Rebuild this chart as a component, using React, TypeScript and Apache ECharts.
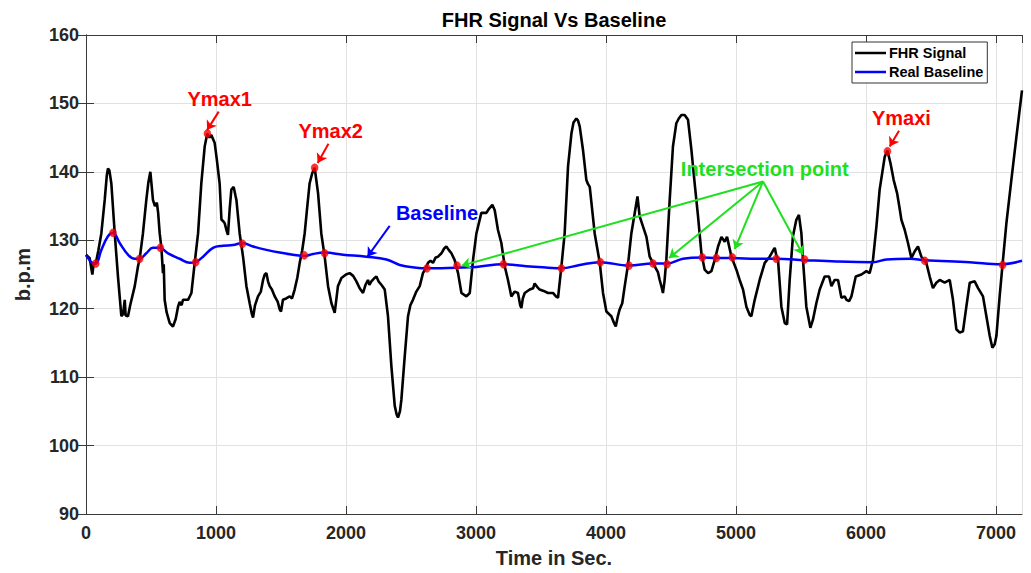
import React, { useEffect, useRef } from 'react';
import * as echarts from 'echarts';

const FONT = '"Liberation Sans", Arial, Helvetica, sans-serif';

// FHR signal (time in s, b.p.m)
const fhrTime = [
  0, 28, 40, 49, 58, 75, 95, 118, 144, 160, 169, 180, 195, 221, 246, 272, 285, 298, 305, 323,
  340, 375, 400, 413, 438, 464, 480, 495, 505, 515, 530, 545, 555, 567, 580, 592, 598, 605, 620, 644,
  669, 690, 708, 720, 735, 746, 785, 811, 836, 862, 887, 913, 933, 950, 964, 990, 1005, 1028, 1042, 1055,
  1067, 1080, 1092, 1105, 1118, 1136, 1150, 1157, 1182, 1208, 1234, 1259, 1275, 1285, 1300, 1323, 1345, 1362, 1375, 1388,
  1400, 1413, 1430, 1452, 1475, 1490, 1500, 1515, 1540, 1567, 1585, 1605, 1625, 1644, 1663, 1682, 1700, 1720, 1740, 1759,
  1785, 1810, 1836, 1862, 1888, 1913, 1938, 1965, 2000, 2028, 2055, 2080, 2105, 2131, 2150, 2169, 2180, 2195, 2215, 2234,
  2250, 2272, 2298, 2323, 2349, 2375, 2390, 2400, 2415, 2426, 2452, 2477, 2495, 2515, 2541, 2567, 2592, 2610, 2631, 2650,
  2669, 2690, 2708, 2734, 2755, 2772, 2790, 2811, 2836, 2862, 2888, 2926, 2952, 2977, 3003, 3041, 3080, 3100, 3126, 3144,
  3169, 3195, 3221, 3246, 3272, 3298, 3323, 3340, 3349, 3360, 3375, 3413, 3440, 3451, 3470, 3490, 3520, 3554, 3592, 3615,
  3631, 3657, 3682, 3708, 3734, 3750, 3772, 3785, 3798, 3823, 3849, 3862, 3875, 3913, 3952, 3977, 4003, 4041, 4060, 4075,
  4090, 4105, 4125, 4144, 4169, 4195, 4221, 4242, 4259, 4285, 4311, 4336, 4375, 4400, 4413, 4430, 4438, 4450, 4464, 4490,
  4515, 4541, 4560, 4580, 4605, 4631, 4657, 4682, 4708, 4734, 4759, 4785, 4811, 4836, 4862, 4888, 4913, 4931, 4965, 5003,
  5028, 5054, 5080, 5105, 5118, 5144, 5182, 5221, 5259, 5285, 5298, 5310, 5323, 5349, 5375, 5393, 5413, 5438, 5464, 5484,
  5503, 5515, 5541, 5572, 5592, 5618, 5644, 5682, 5716, 5734, 5759, 5785, 5811, 5836, 5850, 5870, 5888, 5921, 5965, 6003,
  6028, 6054, 6080, 6105, 6144, 6165, 6188, 6213, 6239, 6260, 6272, 6298, 6323, 6349, 6375, 6400, 6426, 6464, 6490, 6515,
  6541, 6567, 6605, 6644, 6669, 6695, 6721, 6746, 6772, 6798, 6836, 6862, 6900, 6926, 6952, 6972, 6990, 7003, 7028, 7054,
  7080, 7118, 7157, 7200,
];
const fhrValue = [
  127.9, 127.4, 126.0, 125.0, 126.5, 126.6, 128.5, 131.0, 135.9, 139.5, 140.5, 140.2, 138.3, 131.0, 124.7, 118.9, 119.2, 121.3, 119.0, 118.9,
  120.5, 123.3, 126.2, 127.3, 131.0, 135.9, 138.5, 140.0, 138.0, 135.9, 135.0, 135.5, 134.0, 131.0, 128.9, 125.2, 126.5, 121.3, 119.5, 117.9,
  117.4, 118.5, 120.3, 121.0, 120.5, 121.3, 121.3, 122.3, 126.7, 131.0, 138.3, 143.7, 145.6, 145.0, 145.4, 144.2, 142.0, 138.3, 133.0, 132.8,
  132.5, 131.5, 130.8, 134.5, 137.4, 137.8, 136.5, 135.9, 131.0, 127.6, 123.3, 120.8, 119.3, 118.7, 120.5, 121.8, 122.5, 124.2, 125.0, 125.2,
  124.0, 123.3, 122.8, 121.8, 121.0, 119.9, 119.6, 121.3, 121.5, 121.8, 121.5, 122.8, 124.5, 126.7, 128.5, 131.0, 134.5, 138.3, 139.8, 140.6,
  136.9, 131.0, 127.6, 123.3, 120.8, 119.4, 123.3, 124.5, 125.0, 125.2, 124.8, 124.0, 123.0, 122.3, 123.5, 124.2, 123.5, 124.0, 124.4, 124.7,
  124.0, 123.5, 122.8, 118.9, 111.6, 105.8, 104.5, 104.1, 105.0, 106.7, 113.1, 118.9, 120.5, 121.3, 122.5, 123.3, 125.2, 125.8, 126.7, 127.0,
  126.7, 127.5, 127.6, 128.1, 128.8, 129.1, 128.6, 128.1, 127.1, 125.2, 122.3, 121.8, 122.3, 127.1, 131.0, 134.0, 134.0, 134.6, 135.2, 134.4,
  131.5, 129.6, 126.2, 124.2, 121.8, 122.5, 122.3, 120.5, 120.1, 121.5, 122.3, 122.8, 123.0, 123.7, 123.2, 122.8, 122.6, 122.3, 122.3, 121.8,
  121.6, 126.2, 131.0, 140.8, 145.6, 147.2, 147.8, 147.5, 146.6, 143.2, 138.8, 138.2, 137.8, 131.0, 126.7, 122.3, 119.6, 118.9, 118.0, 117.4,
  118.8, 119.9, 120.8, 123.3, 126.4, 131.0, 134.0, 136.4, 133.5, 132.0, 130.5, 127.6, 126.2, 125.3, 124.2, 123.0, 122.3, 124.0, 127.1, 135.9,
  143.7, 147.1, 147.8, 148.3, 148.3, 147.6, 143.2, 138.3, 133.5, 128.1, 125.7, 125.2, 125.5, 127.1, 129.1, 130.5, 129.8, 130.5, 127.6, 125.7,
  124.2, 122.8, 120.3, 119.1, 118.9, 121.3, 124.2, 126.7, 127.6, 128.5, 128.9, 127.8, 127.2, 120.3, 117.9, 117.7, 124.2, 130.6, 133.0, 133.7,
  131.0, 127.2, 120.3, 117.2, 118.4, 120.8, 122.8, 124.7, 124.7, 123.3, 124.2, 124.2, 121.6, 121.8, 121.3, 121.1, 121.8, 124.7, 125.0, 125.5,
  125.2, 127.2, 132.0, 137.4, 142.2, 143.1, 141.3, 138.8, 136.9, 134.5, 133.0, 131.5, 129.6, 127.4, 128.4, 129.1, 127.6, 126.7, 124.7, 123.0,
  123.8, 124.2, 123.8, 124.2, 121.3, 117.0, 116.5, 116.7, 120.3, 123.8, 124.0, 123.0, 121.8, 118.9, 116.0, 114.3, 114.8, 116.0, 121.8, 127.2,
  132.5, 138.8, 145.1, 151.9,
];

// Real baseline
const baselineTime = [
  0, 20, 41, 75, 118, 169, 208, 259, 323, 375, 413, 464, 515, 567, 631, 721, 798, 844, 900, 977,
  1054, 1131, 1203, 1285, 1388, 1490, 1592, 1682, 1746, 1836, 1977, 2157, 2311, 2413, 2541, 2618, 2849, 3003, 3208, 3387,
  3554, 3657, 3798, 3952, 4177, 4362, 4472, 4592, 4741, 4849, 4972, 5157, 5310, 5528, 5772, 6054, 6157, 6338, 6453, 6798,
  7041, 7200,
];
const baselineValue = [
  127.8, 127.3, 126.8, 126.6, 128.6, 130.6, 131.1, 129.6, 127.9, 127.3, 127.3, 128.1, 128.9, 128.9, 128.1, 127.3, 126.7, 126.8, 127.6, 128.9,
  129.2, 129.3, 129.6, 129.1, 128.6, 128.2, 127.9, 127.7, 128.0, 128.2, 127.9, 127.6, 127.2, 126.4, 126.0, 125.9, 126.0, 126.1, 126.5, 126.2,
  126.0, 125.9, 126.4, 126.8, 126.3, 126.6, 126.6, 127.3, 127.5, 127.4, 127.4, 127.3, 127.3, 127.1, 126.9, 126.8, 127.2, 127.3, 127.1, 126.8,
  126.5, 127.0,
];

// Red markers: intersection points and local maxima
const markerTime = [
  75, 208, 413, 572, 844, 934, 1203, 1680, 1759, 1836, 2623, 2854, 3211, 3657, 3957, 4177, 4362, 4470, 4741, 4849,
  4972, 5310, 5528, 6165, 6452, 7051,
];
const markerValue = [
  126.6, 131.1, 127.3, 128.9, 126.8, 145.6, 129.5, 127.8, 140.6, 128.1, 125.9, 126.3, 126.5, 125.9, 126.8, 126.3, 126.6, 126.5, 127.5, 127.4,
  127.5, 127.3, 127.2, 143.0, 127.0, 126.4,
];

const xTicks = { min: 0, max: 7200, interval: 1000 };
const yTicks = { min: 90, max: 160, interval: 10 };

// Annotations (data coordinates)
const labelText = ['Ymax1', 'Ymax2', 'Ymaxi', 'Baseline', 'Intersection point'];
const labelTime = [1028, 1882, 6272, 2700, 5221];
const labelValue = [150.6, 145.9, 147.8, 134.0, 140.4];
const labelColor = ['#ff0000', '#ff0000', '#ff0000', '#0000ff', '#1ee01e'];

const arrowFrom = [[1021, 148.8], [1865, 144.1], [6254, 146.0], [2336, 132.1], [5208, 138.6], [5208, 138.6], [5208, 138.6], [5208, 138.6]];
const arrowTo = [[931, 146.1], [1782, 141.3], [6182, 143.7], [2165, 127.6], [2890, 126.3], [4485, 127.4], [4990, 128.7], [5515, 127.9]];
const arrowColor = ['#ff0000', '#ff0000', '#ff0000', '#0000ff', '#1ee01e', '#1ee01e', '#1ee01e', '#1ee01e'];

const AXIS_COLOR = '#3a3a3a';
const GRID_COLOR = '#e2e2e2';
const TEXT_COLOR = '#262626';

export default function App() {
  const ref = useRef<HTMLDivElement>(null);

  useEffect(() => {
    const chart = echarts.init(ref.current as HTMLDivElement, null, { renderer: 'svg' });

    const tickStyle = { show: true, inside: true, length: 8, lineStyle: { color: AXIS_COLOR, width: 1 } };
    const lineStyleAxis = { show: true, lineStyle: { color: AXIS_COLOR, width: 1 } };

    const option: any = {
      animation: false,
      backgroundColor: '#ffffff',
      textStyle: { fontFamily: FONT },
      graphic: [
        {
          type: 'text',
          x: 554,
          y: 19.5,
          style: {
            text: 'FHR Signal Vs Baseline',
            font: `bold 20px ${FONT}`,
            fill: '#000000',
            textAlign: 'center',
            textVerticalAlign: 'middle',
          },
        },
      ],
      grid: { left: 86, top: 35, width: 936, height: 480, containLabel: false },
      legend: {
        data: [
          { name: 'FHR Signal', icon: 'rect', itemStyle: { color: '#000000' } },
          { name: 'Real Baseline', icon: 'rect', itemStyle: { color: '#0000ff' } },
        ],
        orient: 'vertical',
        left: 852,
        top: 42,
        itemWidth: 31,
        itemHeight: 2.5,
        itemGap: 3,
        padding: [3, 4, 3, 3],
        backgroundColor: '#ffffff',
        borderColor: '#333333',
        borderWidth: 1,
        borderRadius: 0,
        textStyle: { fontFamily: FONT, fontSize: 14.5, fontWeight: 'bold', color: '#000000', padding: [0, 0, 0, -2], lineHeight: 16 },
      },
      xAxis: [
        {
          type: 'value',
          position: 'bottom',
          ...xTicks,
          name: 'Time in Sec.',
          nameLocation: 'middle',
          nameGap: 34,
          nameTextStyle: { fontFamily: FONT, fontSize: 20, fontWeight: 'bold', color: TEXT_COLOR },
          axisLine: lineStyleAxis,
          axisTick: tickStyle,
          axisLabel: {
            fontFamily: FONT,
            fontSize: 18,
            fontWeight: 'bold',
            color: TEXT_COLOR,
            margin: 10,
            showMaxLabel: false,
            formatter: (v: number) => String(v),
          },
          splitLine: { show: true, lineStyle: { color: GRID_COLOR, width: 1 } },
        },
        {
          type: 'value',
          position: 'top',
          ...xTicks,
          axisLine: lineStyleAxis,
          axisTick: tickStyle,
          axisLabel: { show: false },
          splitLine: { show: false },
        },
      ],
      yAxis: [
        {
          type: 'value',
          position: 'left',
          ...yTicks,
          name: 'b.p.m',
          nameLocation: 'middle',
          nameGap: 53,
          nameTextStyle: { fontFamily: FONT, fontSize: 20, fontWeight: 'bold', color: TEXT_COLOR },
          axisLine: lineStyleAxis,
          axisTick: tickStyle,
          axisLabel: { fontFamily: FONT, fontSize: 18, fontWeight: 'bold', color: TEXT_COLOR, margin: 7 },
          splitLine: { show: true, lineStyle: { color: GRID_COLOR, width: 1 } },
        },
        {
          type: 'value',
          position: 'right',
          ...yTicks,
          axisLine: lineStyleAxis,
          axisTick: tickStyle,
          axisLabel: { show: false },
          splitLine: { show: false },
        },
      ],
      series: [
        {
          name: 'FHR Signal',
          type: 'line',
          xAxisIndex: 0,
          yAxisIndex: 0,
          data: fhrTime.map((t, i) => [t, fhrValue[i]]),
          symbol: 'none',
          lineStyle: { color: '#000000', width: 2.6 },
          itemStyle: { color: '#000000' },
          z: 2,
        },
        {
          name: 'Real Baseline',
          type: 'line',
          xAxisIndex: 0,
          yAxisIndex: 0,
          data: baselineTime.map((t, i) => [t, baselineValue[i]]),
          symbol: 'none',
          smooth: 0.4,
          lineStyle: { color: '#0000ff', width: 2.5 },
          itemStyle: { color: '#0000ff' },
          z: 3,
        },
        {
          name: 'Points',
          type: 'scatter',
          xAxisIndex: 0,
          yAxisIndex: 0,
          data: markerTime.map((t, i) => [t, markerValue[i]]),
          symbol: 'circle',
          symbolSize: [7, 8],
          itemStyle: { color: '#ff0000', borderColor: '#dd0000', borderWidth: 0.5 },
          z: 5,
          markLine: {
            silent: true,
            symbol: ['none', 'arrow'],
            symbolSize: 9,
            label: { show: false },
            data: arrowFrom.map((f, i) => [
              { coord: f, lineStyle: { color: arrowColor[i], width: 2, type: 'solid' }, itemStyle: { color: arrowColor[i] } },
              { coord: arrowTo[i] },
            ]),
          },
          markPoint: {
            silent: true,
            symbol: 'circle',
            symbolSize: 0,
            data: labelText.map((txt, i) => ({
              coord: [labelTime[i], labelValue[i]],
              name: txt,
              itemStyle: { color: 'transparent' },
              label: {
                show: true,
                position: 'inside',
                formatter: txt,
                color: labelColor[i],
                fontFamily: FONT,
                fontSize: 20,
                fontWeight: 'bold',
              },
            })),
          },
        },
      ],
    };

    chart.setOption(option);
    return () => chart.dispose();
  }, []);

  return (
    <div
      ref={ref}
      style={{ position: 'absolute', left: 0, top: 0, width: 1031, height: 573, background: '#ffffff' }}
    />
  );
}
